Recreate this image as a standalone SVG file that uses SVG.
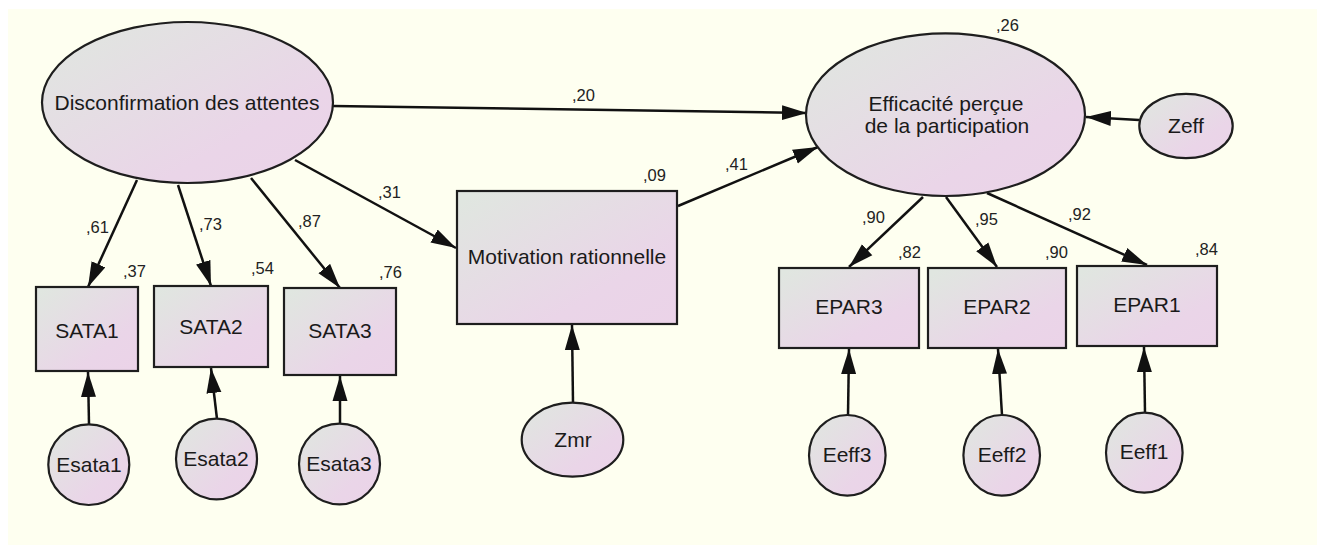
<svg xmlns="http://www.w3.org/2000/svg" width="1317" height="545" viewBox="0 0 1317 545">
<style>
.n{stroke:#1e1e1e;stroke-width:2.2;fill:url(#g)}
.t{font-family:"Liberation Sans",Arial,sans-serif;font-size:21px;fill:#1a1a1a;text-anchor:middle}
.l{font-family:"Liberation Sans",Arial,sans-serif;font-size:16.5px;fill:#222}
.c line{stroke:#111;stroke-width:2.5;marker-end:url(#a)}
</style>
<defs>
<linearGradient id="g" x1="0" y1="0" x2="1" y2="1">
<stop offset="0.05" stop-color="#e0e6e0"/>
<stop offset="0.7" stop-color="#ead5e8"/>
<stop offset="1" stop-color="#ebd3e8"/>
</linearGradient>
<marker id="a" markerUnits="userSpaceOnUse" markerWidth="26" markerHeight="16" refX="25" refY="8" orient="auto">
<path d="M0,0.5 L25,8 L0,15.5 z" fill="#111"/>
</marker>
</defs>
<rect x="0" y="0" width="1317" height="545" fill="#ffffff"/>
<rect x="8" y="9" width="1309" height="536" fill="#fefff0"/>

<g class="c">
<line x1="333" y1="106" x2="807" y2="113"/>
<line x1="137" y1="180" x2="88" y2="287"/>
<line x1="178" y1="185" x2="211" y2="286"/>
<line x1="251" y1="178" x2="340" y2="288"/>
<line x1="295" y1="160" x2="456" y2="248"/>
<line x1="678" y1="206" x2="818" y2="147"/>
<line x1="573" y1="403" x2="572" y2="325"/>
<line x1="1139" y1="120" x2="1086" y2="117"/>
<line x1="923" y1="197" x2="849" y2="267"/>
<line x1="946" y1="197" x2="997" y2="267"/>
<line x1="987" y1="193" x2="1147" y2="265"/>
<line x1="89" y1="424" x2="88" y2="372"/>
<line x1="217" y1="419" x2="211" y2="368"/>
<line x1="340" y1="424" x2="340" y2="376"/>
<line x1="848" y1="415" x2="849" y2="349"/>
<line x1="1002" y1="415" x2="998" y2="349"/>
<line x1="1145" y1="413" x2="1144" y2="347"/>
</g>

<g id="labels">
<text class="l" x="572" y="101">,20</text>
<text class="l" x="378" y="198">,31</text>
<text class="l" x="86" y="233">,61</text>
<text class="l" x="199" y="230">,73</text>
<text class="l" x="298" y="227">,87</text>
<text class="l" x="123" y="277">,37</text>
<text class="l" x="251" y="274">,54</text>
<text class="l" x="379" y="278">,76</text>
<text class="l" x="643" y="181">,09</text>
<text class="l" x="725" y="170">,41</text>
<text class="l" x="996" y="31">,26</text>
<text class="l" x="862" y="223">,90</text>
<text class="l" x="975" y="225">,95</text>
<text class="l" x="1068" y="220">,92</text>
<text class="l" x="898" y="258">,82</text>
<text class="l" x="1045" y="258">,90</text>
<text class="l" x="1195" y="255">,84</text>
</g>

<g id="disconfirmation">
<ellipse class="n" cx="187.5" cy="102.5" rx="145.5" ry="80.5"/>
<text class="t" x="187" y="110">Disconfirmation des attentes</text>
</g>
<g id="efficacite">
<ellipse class="n" cx="945.5" cy="114.7" rx="139.5" ry="81.3"/>
<text class="t" x="946" y="111">Efficacité perçue</text>
<text class="t" x="947" y="133">de la participation</text>
</g>
<g id="motivation">
<rect class="n" x="457" y="191" width="220" height="133"/>
<text class="t" x="567" y="264">Motivation rationnelle</text>
</g>
<g id="zmr">
<ellipse class="n" cx="572.5" cy="439.7" rx="50.8" ry="37"/>
<text class="t" x="573" y="447">Zmr</text>
</g>
<g id="zeff">
<ellipse class="n" cx="1186" cy="126" rx="46.7" ry="32.2"/>
<text class="t" x="1186" y="133">Zeff</text>
</g>
<g id="sata1">
<rect class="n" x="36" y="287" width="102" height="84"/>
<text class="t" x="87" y="338">SATA1</text>
</g>
<g id="sata2">
<rect class="n" x="154" y="286" width="114" height="81"/>
<text class="t" x="211" y="334">SATA2</text>
</g>
<g id="sata3">
<rect class="n" x="284" y="288" width="112" height="87"/>
<text class="t" x="340" y="338">SATA3</text>
</g>
<g id="esata1">
<ellipse class="n" cx="88.8" cy="464.7" rx="40.5" ry="40.3"/>
<text class="t" x="89" y="472">Esata1</text>
</g>
<g id="esata2">
<ellipse class="n" cx="216.5" cy="459" rx="40.5" ry="40.3"/>
<text class="t" x="216" y="466">Esata2</text>
</g>
<g id="esata3">
<ellipse class="n" cx="339.5" cy="464" rx="40.5" ry="40.3"/>
<text class="t" x="339" y="471">Esata3</text>
</g>
<g id="epar3">
<rect class="n" x="779" y="268" width="140" height="80"/>
<text class="t" x="849" y="314">EPAR3</text>
</g>
<g id="epar2">
<rect class="n" x="928" y="268" width="138" height="80"/>
<text class="t" x="997" y="314">EPAR2</text>
</g>
<g id="epar1">
<rect class="n" x="1077" y="266" width="140" height="80"/>
<text class="t" x="1147" y="312">EPAR1</text>
</g>
<g id="eeff3">
<ellipse class="n" cx="847.3" cy="455.3" rx="38.3" ry="40.3"/>
<text class="t" x="847" y="462">Eeff3</text>
</g>
<g id="eeff2">
<ellipse class="n" cx="1001.7" cy="455.3" rx="38.3" ry="40.3"/>
<text class="t" x="1002" y="462">Eeff2</text>
</g>
<g id="eeff1">
<ellipse class="n" cx="1144.3" cy="452.7" rx="38.3" ry="40"/>
<text class="t" x="1144" y="459">Eeff1</text>
</g>
</svg>
